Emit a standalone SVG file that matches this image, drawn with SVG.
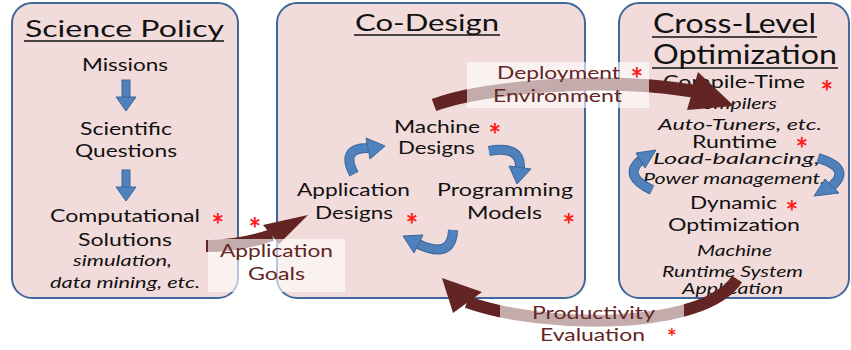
<svg xmlns="http://www.w3.org/2000/svg" width="851" height="350" viewBox="0 0 851 350">
<defs>
<style>
.box{fill:#f2dcdb;stroke:#41689b;stroke-width:2}
text{font-family:Lato,"Open Sans","Liberation Sans",sans-serif;fill:#111}
.title{font-size:24px}
.big{font-size:27px}
.body{font-size:18px}
.b3{font-size:17px}
.it{font-size:15px;font-style:italic}
.star{fill:#ff1a1a;font-size:30px;font-weight:bold;text-anchor:middle}
.lbl{fill:#632523;font-size:17px}
.ul{stroke:#111;stroke-width:1.6}
.blue{fill:#4f81bd;stroke:#3a6699;stroke-width:1}
.bo{fill:none;stroke:#3a6699;stroke-width:10}
.bi{fill:none;stroke:#4f81bd;stroke-width:8}
.mar{fill:none;stroke:#632523}
.mh{fill:#632523}
.veil{fill:#fff;fill-opacity:0.62}
</style>
</defs>
<rect width="851" height="350" fill="#fff"/>

<g id="science-policy">
<rect class="box" x="12" y="3" width="226" height="295" rx="20"/>
<text class="title" x="25" y="37" textLength="199" lengthAdjust="spacingAndGlyphs">Science Policy</text>
<line class="ul" x1="24" y1="41" x2="224" y2="41"/>
<text class="body" x="82" y="71" textLength="86" lengthAdjust="spacingAndGlyphs">Missions</text>
<rect class="blue" x="122" y="80" width="8" height="18"/>
<polygon class="blue" points="116,97 136,97 126,111"/>
<text class="body" x="80" y="135" textLength="92" lengthAdjust="spacingAndGlyphs">Scientific</text>
<text class="body" x="75" y="157" textLength="102" lengthAdjust="spacingAndGlyphs">Questions</text>
<rect class="blue" x="122" y="170" width="8" height="18"/>
<polygon class="blue" points="116,187 136,187 126,201"/>
<text class="body" x="50" y="222" textLength="150" lengthAdjust="spacingAndGlyphs">Computational</text>
<text class="star" x="218" y="236">*</text>
<text class="body" x="78" y="246" textLength="94" lengthAdjust="spacingAndGlyphs">Solutions</text>
<text class="it" x="73" y="266" textLength="99" lengthAdjust="spacingAndGlyphs">simulation,</text>
<text class="it" x="50" y="288" textLength="150" lengthAdjust="spacingAndGlyphs">data mining, etc.</text>
</g>

<g id="co-design">
<rect class="box" x="277" y="3" width="308" height="295" rx="20"/>
<text class="title" x="355" y="31" textLength="144" lengthAdjust="spacingAndGlyphs">Co-Design</text>
<line class="ul" x1="354" y1="35" x2="500" y2="35"/>
<text class="body" x="394" y="133" textLength="86" lengthAdjust="spacingAndGlyphs">Machine</text>
<text class="star" x="495" y="146">*</text>
<text class="body" x="398" y="154" textLength="77" lengthAdjust="spacingAndGlyphs">Designs</text>
<text class="body" x="297" y="196" textLength="113" lengthAdjust="spacingAndGlyphs">Application</text>
<text class="body" x="315" y="219" textLength="78" lengthAdjust="spacingAndGlyphs">Designs</text>
<text class="star" x="412" y="236">*</text>
<text class="body" x="437" y="196" textLength="136" lengthAdjust="spacingAndGlyphs">Programming</text>
<text class="body" x="467" y="219" textLength="75" lengthAdjust="spacingAndGlyphs">Models</text>
<text class="star" x="569" y="236">*</text>
<path class="bo" d="M354 174 Q340 148 368 148"/>
<path class="bi" d="M354 174 Q340 148 368 148"/>
<polygon class="blue" points="366,138 385,146 370,159"/>
<path class="bo" d="M489 151 Q521 145 520 168"/>
<path class="bi" d="M489 151 Q521 145 520 168"/>
<polygon class="blue" points="509,166 531,169 517,184"/>
<path class="bo" d="M453 230 Q452 260 418 244"/>
<path class="bi" d="M453 230 Q452 260 418 244"/>
<polygon class="blue" points="423,235 403,236 414,253"/>
</g>

<g id="cross-level-optimization">
<rect class="box" x="619" y="3" width="230" height="295" rx="20"/>
<text class="big" x="653" y="33" textLength="163" lengthAdjust="spacingAndGlyphs">Cross-Level</text>
<line class="ul" x1="652" y1="37" x2="817" y2="37"/>
<text class="big" x="653" y="64" textLength="184" lengthAdjust="spacingAndGlyphs">Optimization</text>
<line class="ul" x1="652" y1="68" x2="838" y2="68"/>
<text class="b3" x="663" y="88" textLength="142" lengthAdjust="spacingAndGlyphs">Compile-Time</text>
<text class="star" x="827" y="103">*</text>
<text class="it" x="690" y="109" textLength="87" lengthAdjust="spacingAndGlyphs">Compilers</text>
<text class="it" x="658" y="130" textLength="164" lengthAdjust="spacingAndGlyphs">Auto-Tuners, etc.</text>
<text class="b3" x="692" y="148" textLength="85" lengthAdjust="spacingAndGlyphs">Runtime</text>
<text class="star" x="802" y="160">*</text>
<text class="it" x="653" y="164" textLength="167" lengthAdjust="spacingAndGlyphs">Load-balancing,</text>
<text class="it" x="643" y="184" textLength="182" lengthAdjust="spacingAndGlyphs">Power management,</text>
<text class="b3" x="690" y="209" textLength="87" lengthAdjust="spacingAndGlyphs">Dynamic</text>
<text class="star" x="792" y="223">*</text>
<text class="b3" x="668" y="231" textLength="132" lengthAdjust="spacingAndGlyphs">Optimization</text>
<text class="it" x="697" y="256" textLength="75" lengthAdjust="spacingAndGlyphs">Machine</text>
<text class="it" x="662" y="277" textLength="141" lengthAdjust="spacingAndGlyphs">Runtime System</text>
<text class="it" x="682" y="294" textLength="101" lengthAdjust="spacingAndGlyphs">Application</text>
<path class="bo" d="M652 190 Q622 176 641 160"/>
<path class="bi" d="M652 190 Q622 176 641 160"/>
<polygon class="blue" points="636,153 656,150 645,168"/>
<path class="bo" d="M818 158 Q852 168 832 186"/>
<path class="bi" d="M818 158 Q852 168 832 186"/>
<polygon class="blue" points="825,179 839,193 814,196"/>
</g>

<g id="connectors">
<path class="mar" stroke-width="13" d="M434 105 C480 88 600 76 693 91"/>
<polygon class="mh" points="698,72 734,106 687,110"/>
<path class="mar" stroke-width="12" d="M737 279 C705 330 545 330 467 302"/>
<polygon class="mh" points="442,278 482,292 453,313"/>
<path class="mar" stroke-width="12" d="M206 246 Q240 246 272 235"/>
<polygon class="mh" points="263,225 308,215 279,244"/>
<rect class="veil" x="467" y="62" width="182" height="46"/>
<rect class="veil" x="500" y="300" width="184" height="50"/>
<rect class="veil" x="208" y="239" width="137" height="53"/>
<text class="lbl" x="497" y="79" textLength="123" lengthAdjust="spacingAndGlyphs">Deployment</text>
<text class="star" x="637" y="90">*</text>
<text class="lbl" x="493" y="102" textLength="129" lengthAdjust="spacingAndGlyphs">Environment</text>
<text class="star" x="255" y="240">*</text>
<text class="lbl" x="220" y="257" textLength="113" lengthAdjust="spacingAndGlyphs">Application</text>
<text class="lbl" x="248" y="280" textLength="57" lengthAdjust="spacingAndGlyphs">Goals</text>
<text class="lbl" x="532" y="319" textLength="123" lengthAdjust="spacingAndGlyphs">Productivity</text>
<text class="lbl" x="540" y="341" textLength="105" lengthAdjust="spacingAndGlyphs">Evaluation</text>
<text class="star" x="672" y="345" style="font-size:23px">*</text>
</g>
</svg>
